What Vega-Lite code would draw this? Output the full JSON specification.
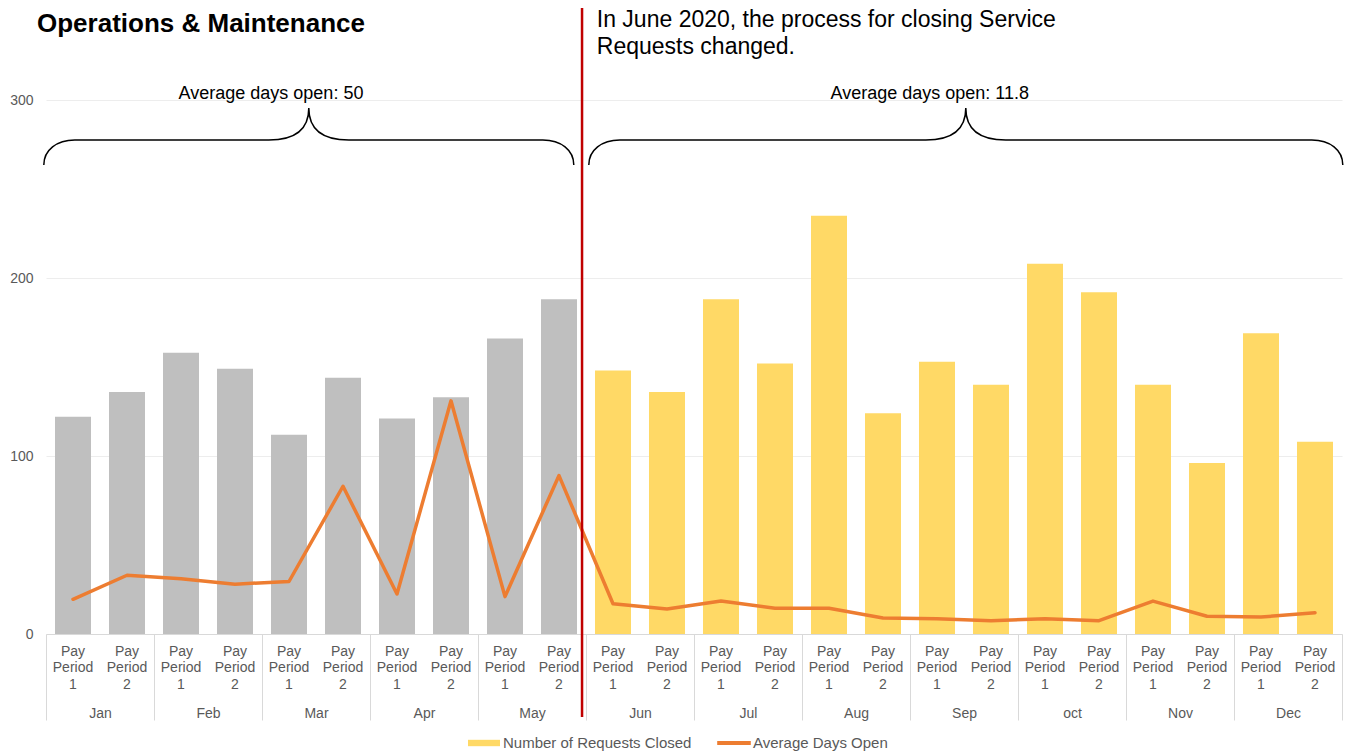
{
  "$schema": "https://vega.github.io/schema/vega-lite/v6.json",
  "width": 1296,
  "height": 534,
  "autosize": {"type": "none"},
  "padding": {"left": 46, "top": 100, "right": 11, "bottom": 117},
  "config": {
    "view": {"stroke": null},
    "font": "Liberation Sans",
    "axis": {"labelFont": "Liberation Sans", "titleFont": "Liberation Sans"},
    "legend": {"labelFont": "Liberation Sans"},
    "text": {"font": "Liberation Sans"}
  },
  "data": {
    "values": [
      {"month": "Jan", "period": "1", "key": "Jan|1", "closed": 122, "days": 19.5},
      {"month": "Jan", "period": "2", "key": "Jan|2", "closed": 136, "days": 33},
      {"month": "Feb", "period": "1", "key": "Feb|1", "closed": 158, "days": 31},
      {"month": "Feb", "period": "2", "key": "Feb|2", "closed": 149, "days": 28},
      {"month": "Mar", "period": "1", "key": "Mar|1", "closed": 112, "days": 29.5},
      {"month": "Mar", "period": "2", "key": "Mar|2", "closed": 144, "days": 83},
      {"month": "Apr", "period": "1", "key": "Apr|1", "closed": 121, "days": 22.5},
      {"month": "Apr", "period": "2", "key": "Apr|2", "closed": 133, "days": 131},
      {"month": "May", "period": "1", "key": "May|1", "closed": 166, "days": 21},
      {"month": "May", "period": "2", "key": "May|2", "closed": 188, "days": 89},
      {"month": "Jun", "period": "1", "key": "Jun|1", "closed": 148, "days": 17},
      {"month": "Jun", "period": "2", "key": "Jun|2", "closed": 136, "days": 14},
      {"month": "Jul", "period": "1", "key": "Jul|1", "closed": 188, "days": 18.5},
      {"month": "Jul", "period": "2", "key": "Jul|2", "closed": 152, "days": 14.5},
      {"month": "Aug", "period": "1", "key": "Aug|1", "closed": 235, "days": 14.5},
      {"month": "Aug", "period": "2", "key": "Aug|2", "closed": 124, "days": 9},
      {"month": "Sep", "period": "1", "key": "Sep|1", "closed": 153, "days": 8.5},
      {"month": "Sep", "period": "2", "key": "Sep|2", "closed": 140, "days": 7.5},
      {"month": "oct", "period": "1", "key": "oct|1", "closed": 208, "days": 8.5},
      {"month": "oct", "period": "2", "key": "oct|2", "closed": 192, "days": 7.5},
      {"month": "Nov", "period": "1", "key": "Nov|1", "closed": 140, "days": 18.5},
      {"month": "Nov", "period": "2", "key": "Nov|2", "closed": 96, "days": 10},
      {"month": "Dec", "period": "1", "key": "Dec|1", "closed": 169, "days": 9.5},
      {"month": "Dec", "period": "2", "key": "Dec|2", "closed": 108, "days": 12}
    ]
  },
  "resolve": {"scale": {"x": "independent"}, "axis": {"x": "independent"}},
  "layer": [
    {
      "encoding": {
        "x": {
          "field": "key",
          "type": "nominal",
          "scale": {
            "domain": ["Jan|1","Jan|2","Feb|1","Feb|2","Mar|1","Mar|2","Apr|1","Apr|2","May|1","May|2","Jun|1","Jun|2","Jul|1","Jul|2","Aug|1","Aug|2","Sep|1","Sep|2","oct|1","oct|2","Nov|1","Nov|2","Dec|1","Dec|2"],
            "paddingInner": 0.3333,
            "paddingOuter": 0.1667
          },
          "axis": {
            "orient": "bottom",
            "title": null,
            "labelAngle": 0,
            "labelExpr": "['Pay', 'Period', split(datum.value, '|')[1]]",
            "labelLineHeight": 16.5,
            "labelFontSize": 14,
            "labelColor": "#595959",
            "labelPadding": 10,
            "ticks": false,
            "domain": true,
            "domainColor": "#D9D9D9",
            "domainWidth": 1,
            "grid": false
          }
        }
      },
      "layer": [
        {
          "mark": {"type": "bar"},
          "encoding": {
            "y": {
              "field": "closed",
              "type": "quantitative",
              "scale": {"domain": [0, 300], "nice": false},
              "axis": {
                "title": null,
                "values": [0, 100, 200, 300],
                "grid": true,
                "gridColor": "#EDEDED",
                "domain": false,
                "ticks": false,
                "labelFontSize": 14,
                "labelColor": "#595959",
                "labelPadding": 13
              }
            },
            "color": {
              "condition": {"test": "indexof(['Jan','Feb','Mar','Apr','May'], datum.month) >= 0", "value": "#BFBFBF"},
              "datum": "Number of Requests Closed",
              "type": "nominal",
              "scale": {"domain": ["Number of Requests Closed", "Average Days Open"], "range": ["#FFD966", "#ED7D31"]},
              "legend": {
                "title": null,
                "orient": "none",
                "legendX": 430,
                "legendY": 635,
                "direction": "horizontal",
                "symbolSize": 256,
                "labelOffset": 11,
                "labelLimit": 400,
                "columnPadding": 25,
                "labelFontSize": 15,
                "labelColor": "#595959",
                "encode": {
                  "symbols": {
                    "update": {
                      "shape": {"signal": "datum.value === 'Average Days Open' ? 'M-2.1,-0.25H2.1V0.25H-2.1Z' : 'M-2,-0.4H2V0.4H-2Z'"},
                      "fill": {"signal": "datum.value === 'Average Days Open' ? '#ED7D31' : '#FFD966'"},
                      "stroke": {"value": "transparent"},
                      "strokeWidth": {"value": 0},
                      "opacity": {"value": 1},
                      "fillOpacity": {"value": 1}
                    }
                  }
                }
              }
            }
          }
        },
        {
          "mark": {"type": "line", "strokeWidth": 3.5, "strokeCap": "round", "strokeJoin": "round"},
          "encoding": {
            "y": {"field": "days", "type": "quantitative"},
            "color": {"datum": "Average Days Open", "type": "nominal"}
          }
        },
        {
          "data": {"values": [{"key": "May|2", "event": "Process change"}]},
          "mark": {"type": "rule", "color": "#C00000", "strokeWidth": 2.5},
          "encoding": {
            "x": {"field": "key", "type": "nominal", "bandPosition": 1.14},
            "y": {"datum": 351.7, "type": "quantitative"},
            "y2": {"datum": -46.6}
          }
        },
        {
          "data": {"values": [{"key": "Jan|1", "label": "Operations & Maintenance"}]},
          "mark": {"type": "text", "align": "left", "baseline": "alphabetic", "fontSize": 26, "fontWeight": "bold", "color": "#000000"},
          "encoding": {
            "x": {"field": "key", "type": "nominal", "bandPosition": -0.5},
            "y": {"datum": 338.2, "type": "quantitative"},
            "text": {"field": "label"}
          }
        },
        {
          "data": {"values": [{"key": "Jun|1", "label": "In June 2020, the process for closing Service\nRequests changed."}]},
          "mark": {"type": "text", "align": "left", "baseline": "alphabetic", "fontSize": 23, "lineBreak": "\n", "lineHeight": 27, "color": "#000000"},
          "encoding": {
            "x": {"field": "key", "type": "nominal", "bandPosition": 0.05},
            "y": {"datum": 341, "type": "quantitative"},
            "text": {"field": "label"}
          }
        },
        {
          "data": {"values": [{"key": "Mar|1", "label": "Average days open: 50"}]},
          "layer": [
            {
              "mark": {"type": "text", "align": "center", "baseline": "alphabetic", "fontSize": 18, "color": "#000000"},
              "encoding": {
                "x": {"field": "key", "type": "nominal", "bandPosition": 0},
                "y": {"datum": 300.6, "type": "quantitative"},
                "text": {"field": "label"}
              }
            },
            {
              "mark": {"type": "point", "filled": false, "size": 4, "stroke": "#000000", "strokeWidth": 1.5, "opacity": 1,
                "shape": "M-265,57C-265,42-252,32-234,32L-40,32C-14,32,0,22,0,0C0,22,14,32,40,32L234,32C252,32,265,42,265,57"},
              "encoding": {
                "x": {"field": "key", "type": "nominal", "bandPosition": 1.05},
                "y": {"datum": 295.5, "type": "quantitative"}
              }
            }
          ]
        },
        {
          "data": {"values": [{"key": "Sep|1", "label": "Average days open: 11.8"}]},
          "layer": [
            {
              "mark": {"type": "text", "align": "center", "baseline": "alphabetic", "fontSize": 18, "color": "#000000"},
              "encoding": {
                "x": {"field": "key", "type": "nominal", "bandPosition": 0.3},
                "y": {"datum": 300.6, "type": "quantitative"},
                "text": {"field": "label"}
              }
            },
            {
              "mark": {"type": "point", "filled": false, "size": 4, "stroke": "#000000", "strokeWidth": 1.5, "opacity": 1,
                "shape": "M-377,57C-377,42-364,32-346,32L-40,32C-14,32,0,22,0,0C0,22,14,32,40,32L346,32C364,32,377,42,377,57"},
              "encoding": {
                "x": {"field": "key", "type": "nominal", "bandPosition": 1.3},
                "y": {"datum": 295.5, "type": "quantitative"}
              }
            }
          ]
        }
      ]
    },
    {
      "mark": {"type": "rule", "opacity": 0},
      "encoding": {
        "x": {
          "field": "month",
          "type": "nominal",
          "scale": {
            "domain": ["Jan","Feb","Mar","Apr","May","Jun","Jul","Aug","Sep","oct","Nov","Dec"],
            "paddingInner": 0,
            "paddingOuter": 0
          },
          "axis": {
            "orient": "bottom",
            "title": null,
            "labelAngle": 0,
            "domain": false,
            "grid": false,
            "ticks": true,
            "tickBand": "extent",
            "tickSize": 86,
            "tickColor": "#D9D9D9",
            "tickWidth": 1,
            "labelFontSize": 14,
            "labelColor": "#595959",
            "labelPadding": -14
          }
        }
      }
    }
  ]
}
